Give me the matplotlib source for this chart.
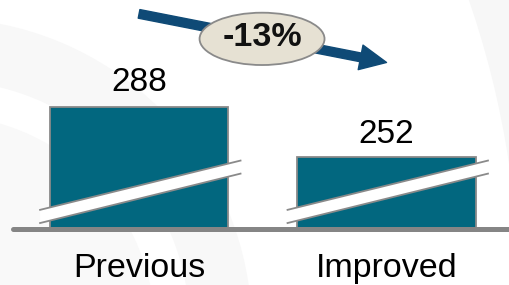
import numpy as np
import matplotlib
matplotlib.use("Agg")
from matplotlib import pyplot as plt
from matplotlib.patches import Ellipse, FancyArrowPatch, Polygon, Circle

plt.rcParams['font.family'] = ['Liberation Sans', 'DejaVu Sans']

# data
categories = ["Previous", "Improved"]
values = [288, 252]
change_label = "-13%"
axis_start = 200   # broken axis: bars start at 200

bar_color = "#02677f"
edge_gray = "#8a8a8a"
arrow_color = "#0f4a76"

fig = plt.figure(figsize=(5.09, 2.85), dpi=100)
fig.patch.set_facecolor("white")

# faint watermark arcs in the background
bg = fig.add_axes([0, 0, 1, 1])
bg.set_xlim(0, 509)
bg.set_ylim(285, 0)
bg.axis("off")
bg.add_patch(Circle((-60, 330), 312, color="#f8f8f8", lw=0))
bg.add_patch(Circle((-60, 330), 250, color="white", lw=0))
bg.add_patch(Circle((-60, 330), 215, color="#f9f9f9", lw=0))
bg.add_patch(Circle((-400, 300), 940, fill=False, ec="#f7f7f7", lw=30))

ax = fig.add_axes([0, 56 / 285, 1, 229 / 285])
ax.patch.set_alpha(0)
x = np.arange(len(categories))
ax.bar(x, values, width=0.72, color=bar_color, edgecolor=edge_gray, linewidth=1.3, zorder=2)
ax.set_xlim(-0.562, 1.495)
ax.set_ylim(axis_start, 365)
ax.axis("off")

# axis-break stripes across each bar
for xi in x:
    xs = [xi - 0.40, xi + 0.41]
    lo = [axis_start + 4.3, axis_start + 39.9]
    hi = [axis_start + 13.8, axis_start + 49.3]
    poly = Polygon([(xs[0], lo[0]), (xs[1], lo[1]), (xs[1], hi[1]), (xs[0], hi[0])],
                   closed=True, facecolor="white", edgecolor="none", zorder=3, clip_on=False)
    ax.add_patch(poly)
    ax.plot(xs, lo, color=edge_gray, lw=1.3, zorder=4, clip_on=False)
    ax.plot(xs, hi, color=edge_gray, lw=1.3, zorder=4, clip_on=False)

# baseline
ax.plot([-0.51, 1.6], [axis_start, axis_start], color="#858585", lw=3.6,
        solid_capstyle="round", zorder=5, clip_on=False)

# value labels
offsets = [17.5, 16.0]
for xi, v, off in zip(x, values, offsets):
    ax.annotate(str(v), (xi, v), xytext=(0, off), textcoords="offset points",
                ha="center", va="center", fontsize=24, color="black")

# category labels
for xi, c in zip(x, categories):
    ax.annotate(c, (xi, axis_start), xytext=(0, -34.5), textcoords="offset points",
                ha="center", va="baseline", fontsize=24.5, color="black", annotation_clip=False)

# change arrow with ellipse label
arr = FancyArrowPatch((x[0], 355), (x[1], 320),
                      arrowstyle="simple,head_length=19,head_width=18,tail_width=6.3",
                      mutation_scale=1, color=arrow_color, shrinkA=0, shrinkB=0, zorder=6)
ax.add_patch(arr)
ax.add_patch(Ellipse((0.497, 337), 0.505, 37.7, facecolor="#e6e1d3",
                     edgecolor=edge_gray, lw=1.3, zorder=7))
ax.text(0.497, 338, change_label, ha="center", va="center", fontsize=24.5,
        fontweight="bold", color="#111111", zorder=8)

fig.savefig("out.png", dpi=100)
